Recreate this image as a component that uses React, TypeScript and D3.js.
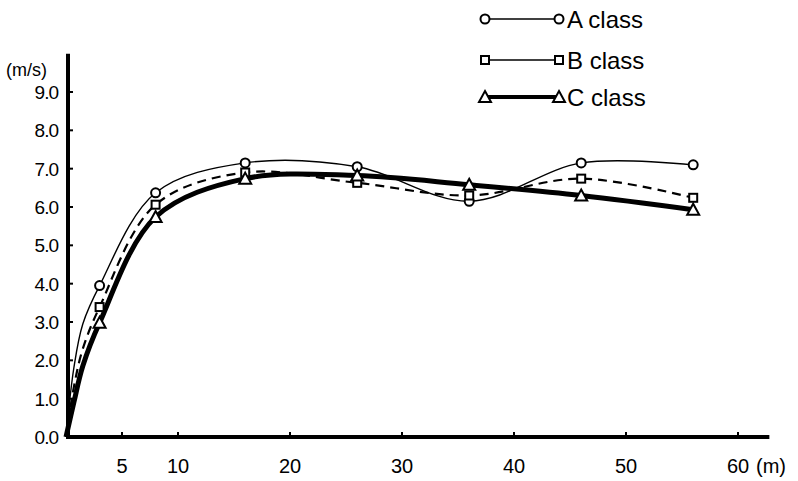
import React, { useEffect, useRef } from 'react';
import * as d3 from 'd3';

// distance along the run (m); markers drawn from index 3 on
const distances = [0, 0.7, 1.5, 3, 8, 16, 26, 36, 46, 56];
// speed (m/s) per class
const aClass = [0, 1.8, 2.95, 3.95, 6.37, 7.15, 7.05, 6.15, 7.15, 7.1];
const bClass = [0, 1.3, 2.3, 3.39, 6.06, 6.9, 6.63, 6.3, 6.74, 6.24];
const cClass = [0, 0.9, 1.85, 2.98, 5.74, 6.74, 6.82, 6.58, 6.3, 5.93];

const yTicks = [0, 1, 2, 3, 4, 5, 6, 7, 8, 9];
const yTickLabels = ['0.0', '1.0', '2.0', '3.0', '4.0', '5.0', '6.0', '7.0', '8.0', '9.0'];
const xTicks = [5, 10, 20, 30, 40, 50, 60];
const seriesNames = ['A class', 'B class', 'C class'];

const App = () => {
  const ref = useRef(null);

  const width = 798, height = 481;
  const FONT = '"Liberation Sans", Arial, sans-serif';

  useEffect(() => {
    const svg = d3.select(ref.current);
    svg.selectAll('*').remove();

    const x = d3.scaleLinear().domain([0, 60]).range([66, 738]);
    const y = d3.scaleLinear().domain([0, 9]).range([437, 92]);

    const series = [
      { name: seriesNames[0], values: aClass, width: 1.4, dash: null, marker: 'circle' },
      { name: seriesNames[1], values: bClass, width: 2.2, dash: '9,6', marker: 'square' },
      { name: seriesNames[2], values: cClass, width: 5, dash: null, marker: 'triangle' },
    ];

    const drawMarker = (g, type, cx, cy) => {
      if (type === 'circle') {
        g.append('circle').attr('cx', cx).attr('cy', cy).attr('r', 4.5)
          .attr('fill', '#fff').attr('stroke', '#000').attr('stroke-width', 2);
      } else if (type === 'square') {
        g.append('rect').attr('x', cx - 4).attr('y', cy - 4).attr('width', 8).attr('height', 8)
          .attr('fill', '#fff').attr('stroke', '#000').attr('stroke-width', 2);
      } else {
        g.append('path')
          .attr('d', `M${cx},${cy - 6} L${cx + 6},${cy + 5} L${cx - 6},${cy + 5} Z`)
          .attr('fill', '#fff').attr('stroke', '#000').attr('stroke-width', 2);
      }
    };

    // curves
    const line = d3.line()
      .x((d, i) => x(distances[i]))
      .y(d => y(d))
      .curve(d3.curveCatmullRom.alpha(0.5));

    series.forEach(s => {
      svg.append('path')
        .attr('d', line(s.values))
        .attr('fill', 'none')
        .attr('stroke', '#000')
        .attr('stroke-width', s.width)
        .attr('stroke-dasharray', s.dash);
    });

    series.forEach(s => {
      const g = svg.append('g');
      s.values.forEach((v, i) => {
        if (i < 3) return;
        drawMarker(g, s.marker, x(distances[i]), y(v));
      });
    });

    // axes
    svg.append('line')
      .attr('x1', 68).attr('x2', 68).attr('y1', y(10)).attr('y2', y(0) + 2)
      .attr('stroke', '#000').attr('stroke-width', 4);
    svg.append('line')
      .attr('x1', 66).attr('x2', x(62.8)).attr('y1', y(0)).attr('y2', y(0))
      .attr('stroke', '#000').attr('stroke-width', 4);

    // y ticks + labels
    yTicks.forEach((t, i) => {
      if (t > 0) {
        svg.append('line')
          .attr('x1', 68).attr('x2', 73).attr('y1', y(t)).attr('y2', y(t))
          .attr('stroke', '#000').attr('stroke-width', 2);
      }
      svg.append('text')
        .attr('x', 58).attr('y', y(t) + 7)
        .attr('text-anchor', 'end')
        .attr('font-family', FONT).attr('font-size', 19)
        .attr('letter-spacing', -1)
        .text(yTickLabels[i]);
    });

    // x ticks + labels
    xTicks.forEach(t => {
      svg.append('line')
        .attr('x1', x(t)).attr('x2', x(t)).attr('y1', y(0)).attr('y2', y(0) - 5)
        .attr('stroke', '#000').attr('stroke-width', 2);
      svg.append('text')
        .attr('x', x(t)).attr('y', 473)
        .attr('text-anchor', 'middle')
        .attr('font-family', FONT).attr('font-size', 20)
        .text(t);
    });

    svg.append('text')
      .attr('x', 756).attr('y', 473)
      .attr('font-family', FONT).attr('font-size', 20)
      .text('(m)');

    svg.append('text')
      .attr('x', 6).attr('y', 76)
      .attr('font-family', FONT).attr('font-size', 18)
      .text('(m/s)');

    // legend
    const legendY = [19, 60, 97];
    series.forEach((s, i) => {
      const ly = legendY[i];
      const g = svg.append('g');
      g.append('line')
        .attr('x1', 485).attr('x2', 559).attr('y1', ly).attr('y2', ly)
        .attr('stroke', '#000').attr('stroke-width', i === 2 ? 4 : 1.4);
      drawMarker(g, s.marker, 485, ly);
      drawMarker(g, s.marker, 559, ly);
      g.append('text')
        .attr('x', 567).attr('y', ly + 9)
        .attr('font-family', FONT).attr('font-size', 24)
        .text(s.name);
    });
  }, []);

  return (
    <svg
      ref={ref}
      width={width}
      height={height}
      style={{ position: 'absolute', left: 0, top: 0, display: 'block', background: '#fff' }}
    />
  );
};

export default App;
